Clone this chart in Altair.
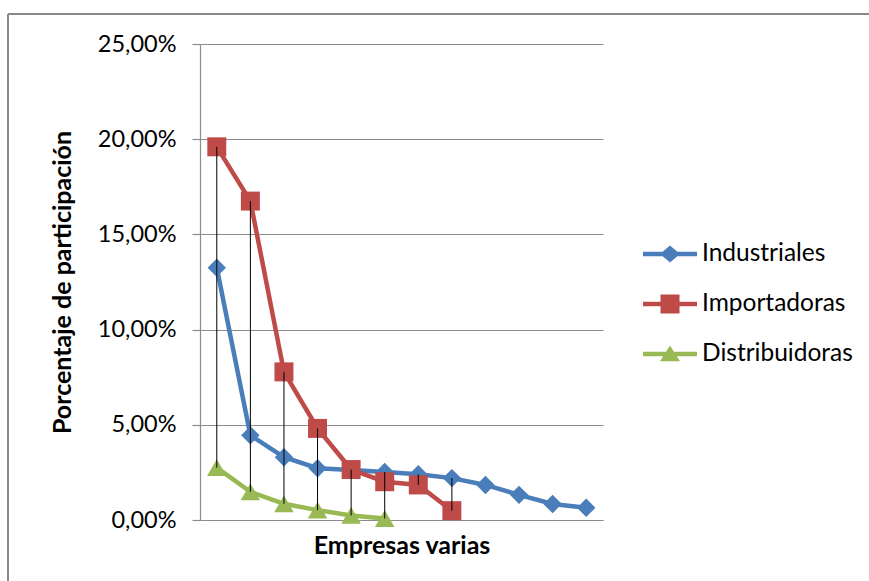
import altair as alt
import pandas as pd

# Datos: participación (%) por empresa en cada tipo
empresas = list(range(1, 13))
industriales = [13.25, 4.45, 3.30, 2.72, 2.62, 2.52, 2.40, 2.20, 1.84, 1.32, 0.84, 0.64]
importadoras = [19.60, 16.75, 7.78, 4.81, 2.65, 2.01, 1.84, 0.49]
distribuidoras = [2.75, 1.48, 0.85, 0.52, 0.24, 0.08]
series = ["Industriales", "Importadoras", "Distribuidoras"]
colores = ["#4A7EBB", "#BE4B48", "#98B954"]
marcadores = ["diamond", "square", "triangle-up"]
y_ticks = [0, 5, 10, 15, 20, 25]

rows = []
for k, (name, vals) in enumerate(zip(series, [industriales, importadoras, distribuidoras])):
    for i, v in enumerate(vals):
        rows.append({"empresa": empresas[i], "serie": name, "valor": v, "orden": k})
df = pd.DataFrame(rows)

# Líneas máximo-mínimo entre series en cada empresa
hl = (df.groupby("empresa")
        .agg(alto=("valor", "max"), bajo=("valor", "min"), n=("valor", "count"))
        .reset_index())
hl = hl[hl["n"] > 1]

FONT = "Lato"
GRID = "#8c8c8c"

x_enc = alt.X("empresa:Q", scale=alt.Scale(domain=[0.5, 12.5], nice=False, zero=False),
              axis=alt.Axis(title="Empresas varias", labels=False, ticks=False, grid=False,
                            domainColor=GRID, domainWidth=1.2,
                            titleFont=FONT, titleFontSize=25, titleFontWeight="bold",
                            titleColor="#000", titleY=25, titleBaseline="middle"))
y_enc = alt.Y("valor:Q", scale=alt.Scale(domain=[0, 25], nice=False),
              axis=alt.Axis(title="Porcentaje de participación", values=y_ticks,
                            labelExpr="replace(format(datum.value, '.2f'), '.', ',') + '%'",
                            grid=True, gridColor=GRID, gridWidth=1.2,
                            domainColor=GRID, domainWidth=1.2,
                            tickColor=GRID, tickSize=8, tickWidth=1.2,
                            labelPadding=16, labelFont=FONT, labelFontSize=23.5, labelColor="#000",
                            titleFont=FONT, titleFontSize=25, titleFontWeight="bold",
                            titleColor="#000", titleX=-138, titleBaseline="middle"))

color_scale = alt.Scale(domain=series, range=colores)

lineas = alt.Chart(df).mark_line(strokeWidth=4.5).encode(
    x=x_enc, y=y_enc,
    color=alt.Color("serie:N", scale=color_scale, legend=None),
    detail="serie:N",
    order=alt.Order("empresa:Q"),
)

puntos = alt.Chart(df).mark_point(filled=True, opacity=1, strokeWidth=0).encode(
    x="empresa:Q", y="valor:Q",
    color=alt.Color("serie:N", scale=color_scale, legend=None),
    shape=alt.Shape("serie:N", scale=alt.Scale(domain=series, range=marcadores), legend=None),
    size=alt.Size("serie:N", scale=alt.Scale(domain=series, range=[340, 380, 420]), legend=None),
)

maxmin = alt.Chart(hl).mark_rule(color="#000", strokeWidth=1).encode(
    x="empresa:Q", y="alto:Q", y2="bajo:Q",
)

# Símbolos de la leyenda: línea con su marcador
sym_line = "M-1.35,-0.1125H1.35V0.1125H-1.35Z"
sym_paths = [
    sym_line + "M0,-0.42L0.5,0L0,0.42L-0.5,0Z",
    sym_line + "M-0.475,-0.475H0.475V0.475H-0.475Z",
    sym_line + "M0,-0.42L0.5,0.36H-0.5Z",
]
legend_props = dict(title=None, orient="none", legendX=450, legendY=190,
                    padding=0, rowPadding=18, labelOffset=12,
                    symbolSize=1600, symbolOpacity=1, symbolStrokeWidth=0,
                    labelFont=FONT, labelFontSize=24.5, labelColor="#000")
leyenda = alt.Chart(df).mark_point(filled=True, opacity=0, size=1600, strokeWidth=0).encode(
    x="empresa:Q", y="valor:Q",
    color=alt.Color("serie:N", scale=color_scale, legend=alt.Legend(**legend_props)),
    shape=alt.Shape("serie:N", scale=alt.Scale(domain=series, range=sym_paths),
                    legend=alt.Legend(**legend_props)),
)

# Marco exterior del gráfico
borde_izq = alt.Chart(df).mark_rule(color="#888888", strokeWidth=2).encode(
    x=alt.value(-192), y=alt.value(-30), y2=alt.value(540))
borde_sup = alt.Chart(df).mark_rule(color="#888888", strokeWidth=2).encode(
    x=alt.value(-192), x2=alt.value(670), y=alt.value(-30))

chart = alt.layer(lineas, puntos, maxmin, leyenda, borde_izq, borde_sup).resolve_scale(
    color="independent", shape="independent"
).properties(
    width=403, height=476,
    autosize=alt.AutoSizeParams(type="none"),
    padding={"left": 200, "top": 44, "right": 266, "bottom": 61},
    background="white",
).configure_view(stroke=None)

chart.save("out.html", embed_options={"renderer": "svg", "actions": False})
